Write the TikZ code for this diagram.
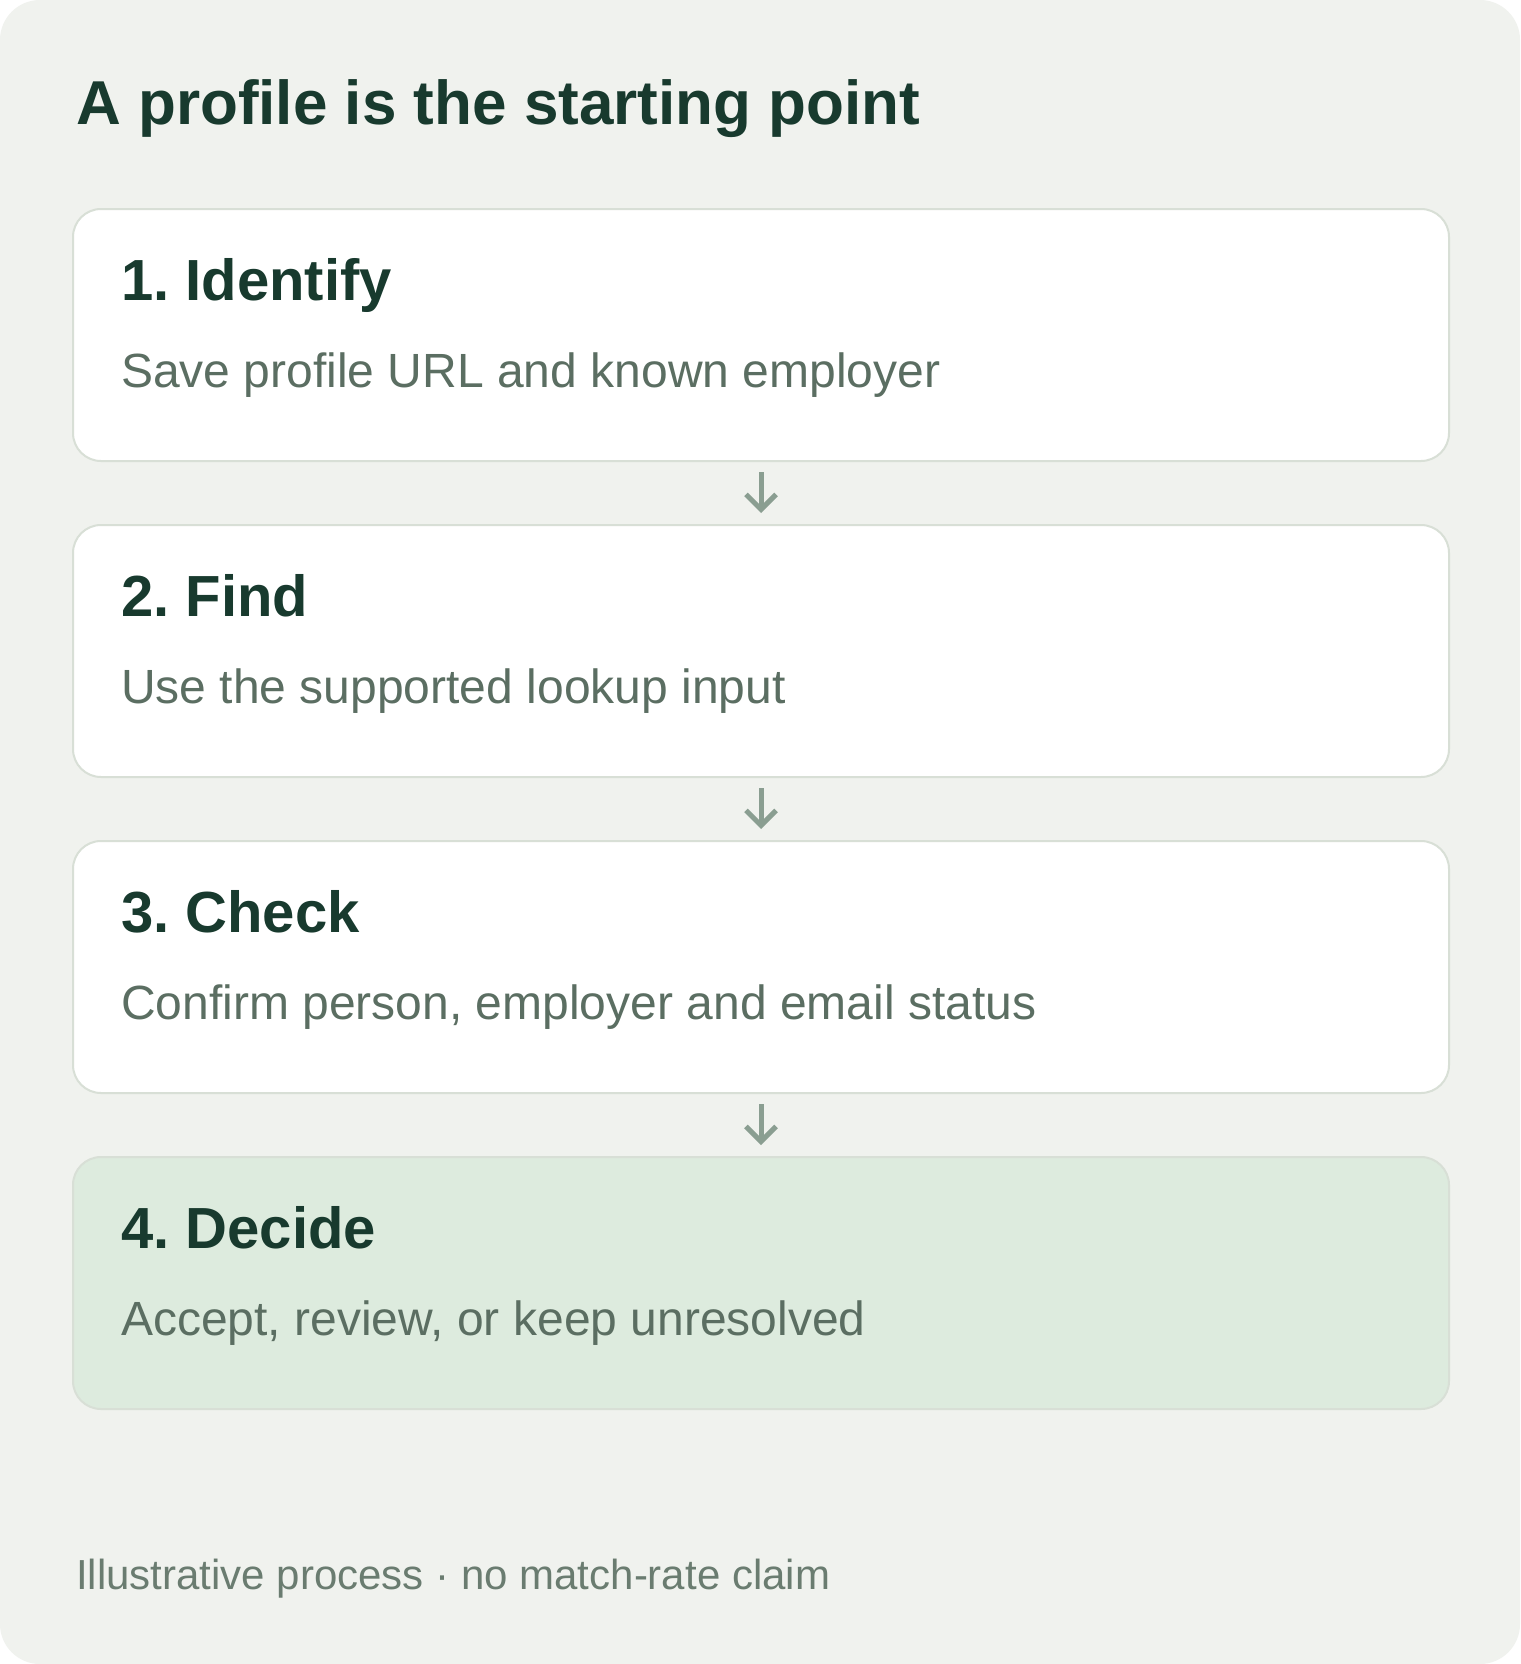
\documentclass[tikz,border=0pt]{standalone}
\usepackage{fontspec}
\setmainfont{Liberation Sans}
\usetikzlibrary{arrows.meta}
\frenchspacing
\definecolor{bgc}{HTML}{F0F2EE}
\definecolor{titlec}{HTML}{183A2E}
\definecolor{descc}{HTML}{5B6E62}
\definecolor{footc}{HTML}{6A7C70}
\definecolor{borderc}{HTML}{D8DFD6}
\definecolor{greenfill}{HTML}{DDEBDE}
\definecolor{arrowc}{HTML}{8A9E91}
\tikzset{
  stepbox/.style={draw=borderc, line width=2pt, fill=white, rounded corners=28pt,
    minimum width=1376pt, minimum height=252pt, inner sep=0pt, anchor=north west},
  laststep/.style={stepbox, fill=greenfill},
  steptitle/.style={anchor=base west, inner sep=0pt, text=titlec,
    font=\fontsize{58}{66}\selectfont\bfseries},
  stepdesc/.style={anchor=base west, inner sep=0pt, text=descc,
    font=\fontsize{48}{56}\selectfont},
  flow/.style={draw=arrowc, line width=5pt,
    -{Straight Barb[length=15pt,width=30pt,line width=5pt]},
    shorten <=10pt, shorten >=11pt},
}
\begin{document}
\begin{tikzpicture}[x=1pt,y=-1pt]
\useasboundingbox (0,0) rectangle (1520,1664);
\fill[white] (0,0) rectangle (1520,1664);
\fill[bgc, rounded corners=40pt] (0,0) rectangle (1520,1664);
\node[anchor=base west, inner sep=0pt, text=titlec, font=\fontsize{62}{70}\selectfont\bfseries]
  (title) at (76,125) {A profile is the starting point};
\node[stepbox] (b1) at (72,208) {};
\node[stepbox] (b2) at (72,524) {};
\node[stepbox] (b3) at (72,840) {};
\node[laststep] (b4) at (72,1156) {};
\node[steptitle] (t1) at (121,300) {1. Identify};
\node[stepdesc] (d1) at (121,387) {Save profile URL and known employer};
\node[steptitle] (t2) at (121,616) {2. Find};
\node[stepdesc] (d2) at (121,703) {Use the supported lookup input};
\node[steptitle] (t3) at (121,932) {3. Check};
\node[stepdesc] (d3) at (121,1019) {Confirm person, employer and email status};
\node[steptitle] (t4) at (121,1248) {4. Decide};
\node[stepdesc] (d4) at (121,1335) {Accept, review, or keep unresolved};
\draw[flow] (b1.south) -- (b2.north);
\draw[flow] (b2.south) -- (b3.north);
\draw[flow] (b3.south) -- (b4.north);
\node[anchor=base west, inner sep=0pt, text=footc, font=\fontsize{42}{50}\selectfont]
  (foot) at (76,1589) {Illustrative process · no match-rate claim};
\end{tikzpicture}
\end{document}
